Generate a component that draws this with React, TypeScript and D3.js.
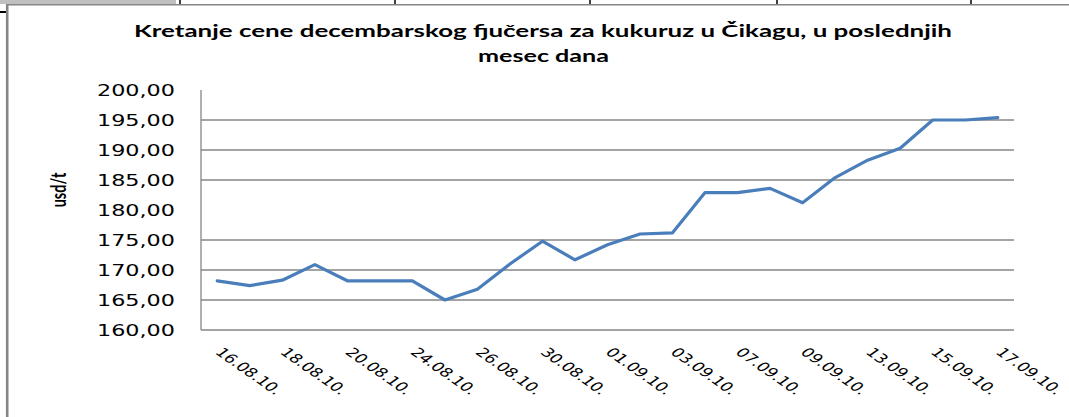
import React from "react";
import * as d3 from "d3";

const dates = [
  "16.08.10.", "17.08.10.", "18.08.10.", "19.08.10.", "20.08.10.",
  "23.08.10.", "24.08.10.", "25.08.10.", "26.08.10.", "27.08.10.",
  "30.08.10.", "31.08.10.", "01.09.10.", "02.09.10.", "03.09.10.",
  "06.09.10.", "07.09.10.", "08.09.10.", "09.09.10.", "10.09.10.",
  "13.09.10.", "14.09.10.", "15.09.10.", "16.09.10.", "17.09.10.",
];
const prices = [
  168.2, 167.4, 168.3, 170.9, 168.2,
  168.2, 168.2, 165.0, 166.8, 171.0,
  174.8, 171.7, 174.2, 176.0, 176.2,
  182.9, 182.9, 183.6, 181.2, 185.4,
  188.3, 190.3, 195.0, 195.0, 195.4,
];
const yTicks = [160, 165, 170, 175, 180, 185, 190, 195, 200];
const gridValues = [165, 170, 175, 185, 190, 195];
const titleLines = [
  "Kretanje cene decembarskog fjučersa za kukuruz u Čikagu, u poslednjih",
  "mesec dana",
];
const yTitle = "usd/t";

const W = 1069;
const H = 417;
const SX = 1.43;
const plotL = 201;
const plotR = 1014;
const plotT = 90;
const plotB = 330;

export default function App() {
  const x = d3.scalePoint<string>().domain(dates).range([plotL, plotR]).padding(0.5);
  const y = d3.scaleLinear().domain([160, 200]).range([plotB, plotT]);
  const line = d3
    .line<number>()
    .x((_, i) => x(dates[i]) as number)
    .y((d) => y(d));
  const fmt = (v: number) => v.toFixed(2).replace(".", ",");
  const gray = "#868686";

  return (
    <svg
      width={W}
      height={H}
      style={{ position: "absolute", left: 0, top: 0, background: "#fff" }}
    >
      <rect x={0} y={0} width={W} height={H} fill="#fff" />
      {/* spreadsheet strip above chart */}
      <rect x={0} y={0} width={176} height={4} fill="#c0c0c0" />
      {[180, 395, 590, 777, 971].map((xx) => (
        <line key={xx} x1={xx} x2={xx} y1={0} y2={4} stroke="#000" strokeWidth={1.5} />
      ))}
      <rect x={0} y={11} width={6} height={2} fill="#000" />
      {/* chart frame */}
      <line x1={6} x2={W} y1={4.75} y2={4.75} stroke={gray} strokeWidth={1.5} />
      <line x1={7.2} x2={7.2} y1={4} y2={H} stroke={gray} strokeWidth={2.6} />

      {/* title */}
      <text
        x={134}
        y={37}
        fontFamily="Lato, 'DejaVu Sans', sans-serif"
        fontWeight="bold"
        fontSize={17}
        textLength={818}
        lengthAdjust="spacingAndGlyphs"
        fill="#000"
      >
        {titleLines[0]}
      </text>
      <text
        x={478}
        y={62}
        fontFamily="Lato, 'DejaVu Sans', sans-serif"
        fontWeight="bold"
        fontSize={17}
        textLength={131}
        lengthAdjust="spacingAndGlyphs"
        fill="#000"
      >
        {titleLines[1]}
      </text>

      {/* gridlines */}
      {gridValues.map((v) => (
        <line key={v} x1={plotL} x2={plotR} y1={y(v)} y2={y(v)} stroke={gray} strokeWidth={1.3} />
      ))}
      {/* axes */}
      <line x1={plotL} x2={plotR} y1={plotB} y2={plotB} stroke={gray} strokeWidth={1.3} />
      <line x1={plotL} x2={plotL} y1={plotT} y2={plotB} stroke={gray} strokeWidth={1.3} />

      {/* y tick labels */}
      {yTicks.map((v) => (
        <text
          key={v}
          x={97}
          y={y(v) + 5.5}
          fontFamily="'DejaVu Sans', Verdana, sans-serif"
          fontSize={15.5}
          textLength={78}
          lengthAdjust="spacingAndGlyphs"
          fill="#000"
        >
          {fmt(v)}
        </text>
      ))}

      {/* y title */}
      <text
        transform={`translate(66,190) scale(${SX},1) rotate(-90)`}
        textAnchor="middle"
        fontFamily="Lato, 'DejaVu Sans', sans-serif"
        fontWeight="bold"
        fontSize={14.5}
        fill="#000"
      >
        {yTitle}
      </text>

      {/* x labels */}
      {dates.map((d, i) =>
        i % 2 === 0 ? (
          <text
            key={d}
            transform={`translate(${(x(d) as number) - 3},353) scale(${SX},1) rotate(45)`}
            fontFamily="'DejaVu Sans', Verdana, sans-serif"
            fontSize={12.6}
            fill="#000"
          >
            {d}
          </text>
        ) : null
      )}

      {/* series line */}
      <path
        d={line(prices) as string}
        fill="none"
        stroke="#4a7ebb"
        strokeWidth={3.2}
        strokeLinejoin="round"
        strokeLinecap="round"
      />
    </svg>
  );
}
